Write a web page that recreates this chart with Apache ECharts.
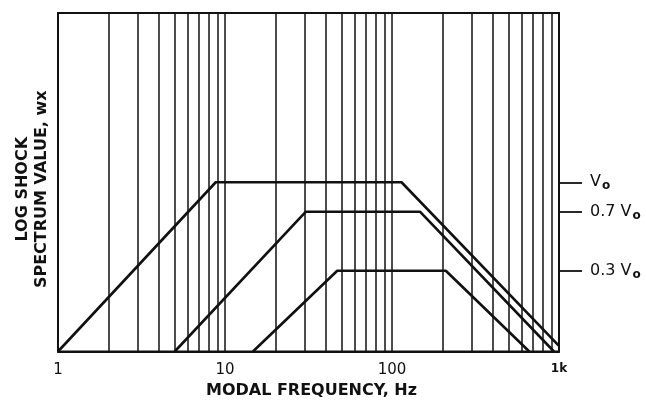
<!DOCTYPE html>
<html>
<head>
<meta charset="utf-8">
<script src="https://cdn.jsdelivr.net/npm/echarts@6/dist/echarts.min.js"></script>
<style>
html,body{margin:0;padding:0;background:#fff;}
#c{width:646px;height:405px;}
</style>
</head>
<body>
<div id="c"></div>
<script>
// ---- data ----
const gridFreqs = [1,2,3,4,5,6,7,8,9,10,20,30,40,50,60,70,80,90,100,200,300,400,500,600,700,800,900,1000];
const xTickValues = [1, 10, 100, 1000];
const xTickLabels = ['1', '10', '100', '1k'];

const freqV0 = [1, 8.8, 114, 1000];
const valV0  = [0.1, 1, 1, 0.108];
const freq07 = [5.0, 30.5, 147, 933];
const val07  = [0.1, 0.67, 0.67, 0.1];
const freq03 = [14.7, 47, 210, 664];
const val03  = [0.1, 0.3, 0.3, 0.1];

const levelValues = [1, 0.67, 0.3];
const levelLabels = ['{n|V}{s|o}', '{n|0.7 V}{s|o}', '{n|0.3 V}{s|o}'];

function pairs(xs, ys) { return xs.map((x, i) => [x, ys[i]]); }

const FONT = 'DejaVu Sans';
const chart = echarts.init(document.getElementById('c'), null, {renderer: 'canvas'});

const lineStyle = {color: '#111', width: 2.6};
function mkSeries(name, xs, ys) {
  return {
    name: name, type: 'line', data: pairs(xs, ys),
    symbol: 'none', lineStyle: lineStyle, clip: true, animation: false,
    xAxisIndex: 0, yAxisIndex: 0
  };
}

chart.setOption({
  animation: false,
  backgroundColor: '#fff',
  grid: {left: 58, right: 87, top: 13, bottom: 53.5, show: true, borderColor: '#111', borderWidth: 1.8,
         containLabel: false, outerBoundsMode: 'none'},
  xAxis: {
    type: 'log', logBase: 10, min: 1, max: 1000,
    name: 'MODAL FREQUENCY, Hz', nameLocation: 'middle', nameGap: 30,
    nameTextStyle: {fontFamily: FONT, fontWeight: 'bold', fontSize: 16, color: '#111', padding: [0, 0, 0, 6]},
    axisLine: {show: true, lineStyle: {color: '#111', width: 1.8}},
    axisTick: {show: false, customValues: gridFreqs},
    splitLine: {show: true, lineStyle: {color: '#111', width: 1.5}},
    minorSplitLine: {show: false},
    axisLabel: {
      customValues: xTickValues, margin: 11,
      fontFamily: FONT, fontSize: 15, color: '#111',
      formatter: function (v) {
        const i = xTickValues.findIndex(t => Math.abs(Math.log10(t) - Math.log10(v)) < 1e-6);
        const s = i >= 0 ? xTickLabels[i] : '';
        return s === '1k' ? '{k|' + s + '}' : s;
      },
      rich: {k: {fontFamily: FONT, fontSize: 12, fontWeight: 'bold', color: '#111'}}
    }
  },
  yAxis: [{
    type: 'log', logBase: 10, min: 0.1, max: 10, position: 'left',
    name: 'LOG SHOCK\nSPECTRUM VALUE, wx', nameLocation: 'middle', nameRotate: 90, nameGap: 7,
    nameTextStyle: {fontFamily: FONT, fontWeight: 'bold', fontSize: 16, color: '#111', lineHeight: 19, padding: [0, 14, 0, 0]},
    axisLine: {show: true, lineStyle: {color: '#111', width: 1.8}},
    axisTick: {show: false}, axisLabel: {show: false}, splitLine: {show: false}
  }, {
    type: 'log', logBase: 10, min: 0.1, max: 10, position: 'right',
    axisLine: {show: true, lineStyle: {color: '#111', width: 1.8}},
    axisTick: {show: true, inside: false, length: 23, customValues: levelValues, lineStyle: {color: '#111', width: 1.8}},
    splitLine: {show: false},
    axisLabel: {
      show: true, customValues: levelValues, margin: 31, align: 'left',
      fontFamily: FONT, fontSize: 16, color: '#111',
      formatter: function (v) {
        let best = 0, bd = 1e9;
        levelValues.forEach((t, i) => { const d = Math.abs(Math.log10(t) - Math.log10(v)); if (d < bd) { bd = d; best = i; } });
        return levelLabels[best];
      },
      rich: {
        n: {fontFamily: FONT, fontSize: 16, color: '#111', lineHeight: 20},
        s: {fontFamily: FONT, fontSize: 12, fontWeight: 'bold', color: '#111', lineHeight: 20, padding: [8, 0, 0, 1]}
      }
    }
  }],
  series: [
    mkSeries('V0', freqV0, valV0),
    mkSeries('0.7 V0', freq07, val07),
    mkSeries('0.3 V0', freq03, val03)
  ]
});
</script>
</body>
</html>
